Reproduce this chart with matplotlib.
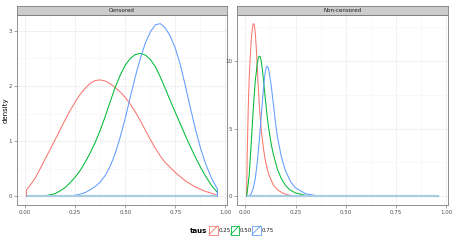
import numpy as np
import matplotlib
matplotlib.use("Agg")
import matplotlib.pyplot as plt
from matplotlib.patches import Rectangle
from matplotlib.lines import Line2D

# ---- data (density estimates per tau) ----
TAUS = ["0.25", "0.50", "0.75"]
COLORS = ["#F8766D", "#00BA38", "#619CFF"]
PANELS = ["Censored", "Non-censored"]

CENS_X_25 = [0.007, 0.025, 0.05, 0.075, 0.1, 0.125, 0.15, 0.175, 0.2, 0.225, 0.25, 0.275, 0.3, 0.325, 0.35, 0.375,
             0.4, 0.425, 0.45, 0.475, 0.5, 0.525, 0.55, 0.575, 0.6, 0.625, 0.65, 0.675, 0.7, 0.75, 0.8, 0.85, 0.9, 0.96]
CENS_Y_25 = [0.12, 0.2, 0.33, 0.5, 0.68, 0.85, 1.03, 1.21, 1.39, 1.56, 1.71, 1.85, 1.96, 2.05, 2.1, 2.11,
             2.09, 2.04, 1.97, 1.89, 1.79, 1.67, 1.53, 1.37, 1.2, 1.03, 0.87, 0.73, 0.61, 0.43, 0.28, 0.17, 0.09, 0.02]
CENS_X_50 = [0.007, 0.05, 0.1, 0.125, 0.15, 0.175, 0.2, 0.225, 0.25, 0.275, 0.3, 0.325, 0.35, 0.375, 0.4, 0.425,
             0.45, 0.475, 0.5, 0.525, 0.55, 0.575, 0.6, 0.625, 0.65, 0.675, 0.7, 0.725, 0.75, 0.775, 0.8, 0.825,
             0.85, 0.875, 0.9, 0.93, 0.96]
CENS_Y_50 = [0.0, 0.0, 0.01, 0.03, 0.05, 0.1, 0.16, 0.25, 0.35, 0.47, 0.62, 0.79, 0.98, 1.2, 1.45, 1.72,
             1.98, 2.2, 2.38, 2.5, 2.57, 2.59, 2.56, 2.48, 2.35, 2.16, 1.95, 1.73, 1.52, 1.31, 1.1, 0.9,
             0.71, 0.53, 0.37, 0.2, 0.07]
CENS_X_75 = [0.007, 0.1, 0.2, 0.25, 0.275, 0.3, 0.325, 0.35, 0.375, 0.4, 0.425, 0.45, 0.475, 0.5, 0.525, 0.55,
             0.575, 0.6, 0.625, 0.65, 0.675, 0.7, 0.725, 0.75, 0.775, 0.8, 0.825, 0.85, 0.875, 0.9, 0.93, 0.96]
CENS_Y_75 = [0.0, 0.0, 0.003, 0.02, 0.04, 0.07, 0.12, 0.18, 0.26, 0.38, 0.55, 0.78, 1.08, 1.42, 1.8, 2.17,
             2.5, 2.78, 2.98, 3.11, 3.13, 3.05, 2.9, 2.68, 2.38, 2.0, 1.6, 1.22, 0.88, 0.6, 0.33, 0.13]

NONC_X_25 = [0.007, 0.01, 0.015, 0.02, 0.025, 0.03, 0.035, 0.04, 0.045, 0.05, 0.055, 0.06, 0.065, 0.07, 0.08,
             0.09, 0.1, 0.11, 0.12, 0.14, 0.16, 0.18, 0.2, 0.225, 0.25, 0.3, 0.96]
NONC_Y_25 = [0.0, 3.0, 6.4, 8.7, 10.3, 11.5, 12.3, 12.75, 12.7, 12.1, 11.0, 9.6, 8.1, 6.8, 4.9,
             3.6, 2.65, 2.0, 1.5, 0.85, 0.5, 0.3, 0.16, 0.07, 0.03, 0.0, 0.0]
NONC_X_50 = [0.007, 0.01, 0.02, 0.03, 0.04, 0.05, 0.06, 0.065, 0.07, 0.075, 0.08, 0.085, 0.09, 0.1, 0.11, 0.12,
             0.13, 0.14, 0.16, 0.18, 0.2, 0.22, 0.25, 0.3, 0.35, 0.4, 0.96]
NONC_Y_50 = [0.0, 0.3, 1.6, 3.9, 6.4, 8.5, 9.8, 10.2, 10.35, 10.3, 9.95, 9.4, 8.7, 7.2, 5.8, 4.7,
             3.8, 3.1, 2.0, 1.3, 0.82, 0.5, 0.25, 0.08, 0.02, 0.0, 0.0]
NONC_X_75 = [0.007, 0.02, 0.03, 0.04, 0.05, 0.06, 0.07, 0.08, 0.09, 0.095, 0.1, 0.105, 0.11, 0.115, 0.12, 0.13,
             0.14, 0.15, 0.16, 0.18, 0.2, 0.225, 0.25, 0.3, 0.35, 0.4, 0.45, 0.96]
NONC_Y_75 = [0.0, 0.05, 0.2, 0.6, 1.3, 2.5, 4.1, 6.0, 7.8, 8.6, 9.2, 9.55, 9.6, 9.45, 9.1, 8.1,
             6.8, 5.5, 4.4, 2.9, 1.9, 1.1, 0.62, 0.2, 0.06, 0.02, 0.0, 0.0]

SERIES = {
    "Censored": [(CENS_X_25, CENS_Y_25), (CENS_X_50, CENS_Y_50), (CENS_X_75, CENS_Y_75)],
    "Non-censored": [(NONC_X_25, NONC_Y_25), (NONC_X_50, NONC_Y_50), (NONC_X_75, NONC_Y_75)],
}
YTICKS = {"Censored": [0, 1, 2, 3], "Non-censored": [0, 5, 10]}
XTICKS = [0.0, 0.25, 0.5, 0.75, 1.0]

W, H = 455, 245
fig = plt.figure(figsize=(W / 100, H / 100), dpi=100)
plt.rcParams["font.family"] = "DejaVu Sans"


def fx(px):
    return px / W


def fy(py):
    return 1 - py / H


all_x = np.concatenate([np.asarray(x) for s in SERIES.values() for x, _ in s])
xmin, xmax = all_x.min(), all_x.max()
xpad = 0.05 * (xmax - xmin)

panel_left = [17, 237]
panel_w = [210, 211]
ptop, pbot = 15, 205

for i, name in enumerate(PANELS):
    ax = fig.add_axes([fx(panel_left[i]), fy(pbot), fx(panel_w[i]), (pbot - ptop) / H])
    ymax = max(max(y) for _, y in SERIES[name])
    for (x, y), c in zip(SERIES[name], COLORS):
        x = np.asarray(x); y = np.asarray(y)
        px = np.concatenate([[x[0]], x, [x[-1]]])
        py = np.concatenate([[0], y, [0]])
        ax.plot(px, py, color=c, lw=0.75, solid_joinstyle="round", zorder=3)
    ax.hlines(0, xmin, xmax, color="#a9cde0", lw=1.6, zorder=4)
    ax.set_xlim(xmin - xpad, xmax + xpad)
    ax.set_ylim(-0.05 * ymax, ymax * 1.05)
    yt = YTICKS[name]
    ax.set_yticks(yt)
    ax.set_yticklabels([str(v) for v in yt])
    ax.set_xticks(XTICKS)
    ax.set_xticklabels(["%.2f" % v for v in XTICKS])
    step = yt[1] - yt[0]
    ax.set_yticks(np.arange(yt[0] + step / 2, ymax * 1.05, step), minor=True)
    ax.set_xticks(np.arange(0.125, 1.0, 0.25), minor=True)
    ax.grid(which="major", color="#EBEBEB", lw=0.5)
    ax.grid(which="minor", color="#F5F5F5", lw=0.5)
    ax.set_axisbelow(True)
    ax.tick_params(which="major", length=2, width=0.5, color="#7f7f7f",
                   labelsize=4, labelcolor="#4d4d4d", pad=1.5)
    ax.tick_params(which="minor", length=0)
    for s in ax.spines.values():
        s.set_color("#7f7f7f")
        s.set_linewidth(0.6)
    # strip
    strip = fig.add_axes([fx(panel_left[i]), fy(ptop), fx(panel_w[i]), 9 / H])
    strip.set_facecolor("#CCCCCC")
    strip.set_xticks([]); strip.set_yticks([])
    for s in strip.spines.values():
        s.set_color("#7f7f7f")
        s.set_linewidth(0.6)
    strip.text(0.5, 0.45, name, ha="center", va="center", fontsize=4, color="#1a1a1a",
               transform=strip.transAxes)

fig.text(fx(6), fy(110), "density", rotation=90, ha="center", va="center", fontsize=5)

# legend
fig.text(fx(207), fy(230.5), "taus", ha="right", va="center", fontsize=5, fontweight="bold")
key_x = [209, 230.5, 252]
for kx, c, lab in zip(key_x, COLORS, TAUS):
    fig.add_artist(Rectangle((fx(kx), fy(234.5)), fx(8.5), 8.5 / H, transform=fig.transFigure,
                             facecolor="white", edgecolor=c, lw=0.6))
    fig.add_artist(Line2D([fx(kx), fx(kx + 8.5)], [fy(234.5), fy(226)], transform=fig.transFigure,
                          color=c, lw=0.6))
    fig.text(fx(kx + 9.5), fy(230.5), lab, ha="left", va="center", fontsize=4, color="#1a1a1a")

fig.savefig("out.png", dpi=100)
